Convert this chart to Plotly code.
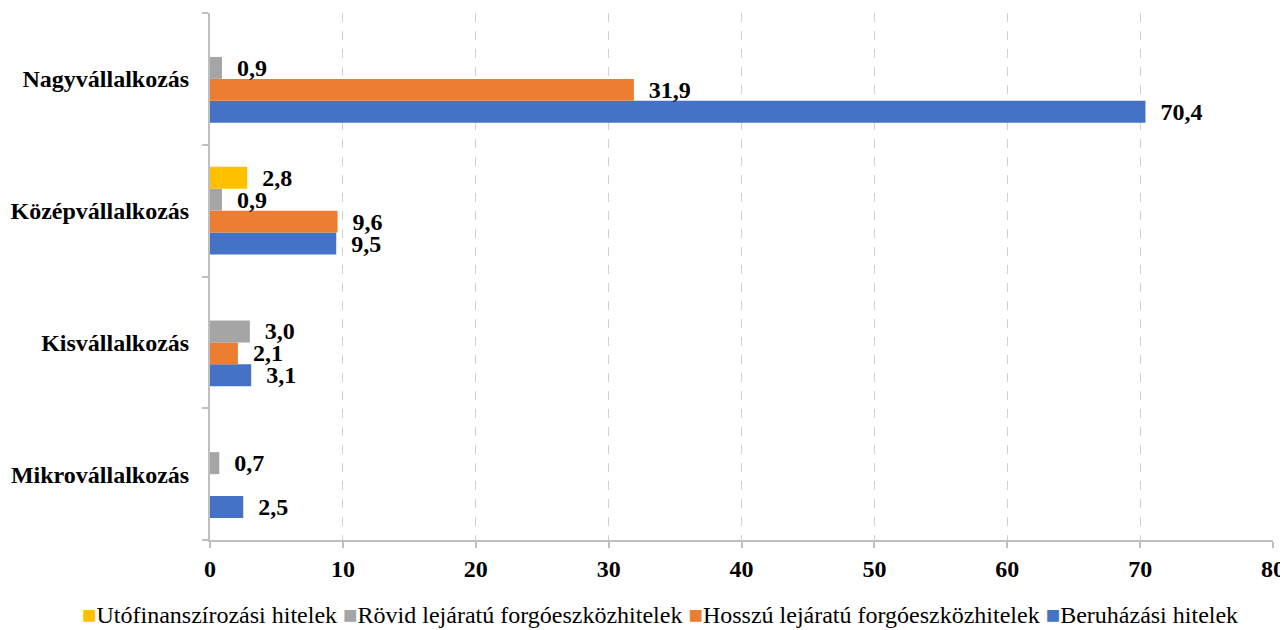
import plotly.graph_objects as go

categories = ["Mikrovállalkozás", "Kisvállalkozás", "Középvállalkozás", "Nagyvállalkozás"]

beruhazasi = [2.5, 3.1, 9.5, 70.4]
hosszu = [None, 2.1, 9.6, 31.9]
rovid = [0.7, 3.0, 0.9, 0.9]
utofin = [None, None, 2.8, None]

series = [
    ("Beruházási hitelek", beruhazasi, "#4472C4"),
    ("Hosszú lejáratú forgóeszközhitelek", hosszu, "#ED7D31"),
    ("Rövid lejáratú forgóeszközhitelek", rovid, "#A5A5A5"),
    ("Utófinanszírozási hitelek", utofin, "#FFC000"),
]

FONT = "Liberation Serif, Times New Roman, serif"


def fmt(v):
  if v is None:
    return ""
  return "\u00a0\u00a0" + f"{v:.1f}".replace(".", ",")


fig = go.Figure()
for name, vals, color in series:
  fig.add_trace(go.Bar(
      y=categories, x=vals, name=name, orientation="h",
      marker=dict(color=color, line=dict(width=0)),
      text=[fmt(v) for v in vals],
      textposition="outside",
      textfont=dict(family=FONT, size=24, color="black", weight="bold"),
      constraintext="none",
      cliponaxis=False,
      showlegend=False,
  ))

# legend as one line of text, same order as the bars are stacked in a group
legend_text = "\u00a0".join(
    f'<span style="color:{color}">■</span>{name}'
    for name, _, color in reversed(series)
)
fig.add_annotation(
    text=legend_text, xref="paper", yref="paper",
    x=0.423, y=-0.142, xanchor="center", yanchor="middle",
    showarrow=False, font=dict(family=FONT, size=24, color="black"),
)

# the page puts the figure 8px in from the top-left corner
fig.update_layout(
    width=1288, height=630,
    barmode="group", bargap=0.333, bargroupgap=0,
    paper_bgcolor="white", plot_bgcolor="white",
    font=dict(family=FONT, color="black"),
    margin=dict(l=202, r=23, t=5, b=98, autoexpand=False),
)
fig.update_xaxes(
    range=[0, 80], dtick=10,
    showgrid=True, gridcolor="#d0d0d0", griddash="dash", gridwidth=1,
    zeroline=False, automargin=False,
    showline=True, linecolor="#bfbfbf", linewidth=2,
    ticks="outside", ticklen=6, tickcolor="#bfbfbf", tickwidth=2,
    tickfont=dict(family=FONT, size=24, weight="bold"),
)
fig.update_yaxes(
    showgrid=False, zeroline=False, automargin=False,
    showline=True, linecolor="#bfbfbf", linewidth=2,
    ticks="outside", tickson="boundaries", ticklen=6,
    tickcolor="#bfbfbf", tickwidth=2,
    ticklabelstandoff=14,
    tickfont=dict(family=FONT, size=24, weight="bold"),
)

fig.write_html("out.html")
